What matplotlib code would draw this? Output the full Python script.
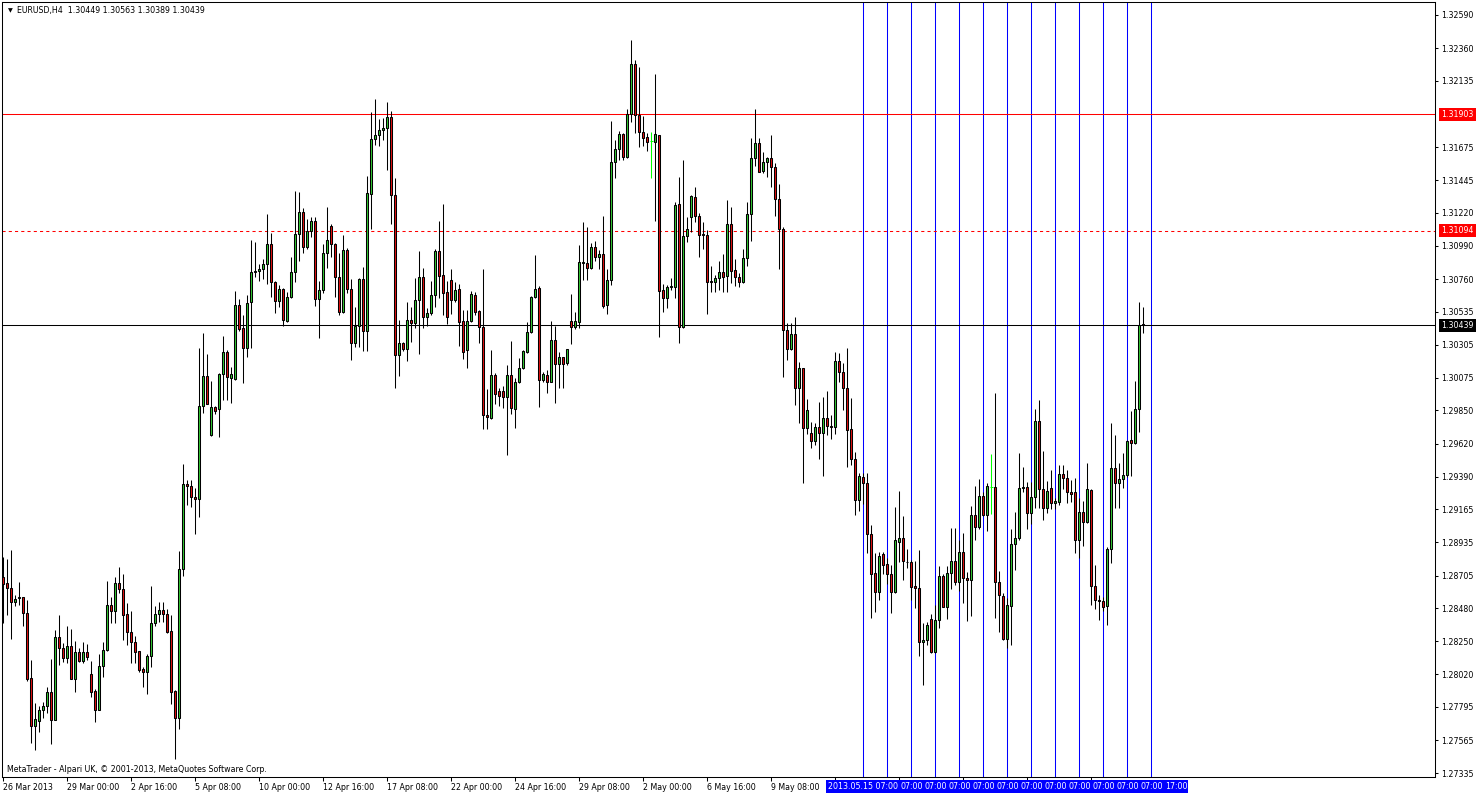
import numpy as np
import matplotlib.pyplot as plt
import matplotlib.transforms as mtransforms
from matplotlib.patches import Rectangle

# ================================
# Datos EURUSD H4
# ================================
opens = [
    1.28698, 1.28651, 1.28617, 1.28520, 1.28548, 1.28557, 1.28446, 1.27993, 1.27660, 1.27700,
    1.27776, 1.27799, 1.27896, 1.27707, 1.28277, 1.28201, 1.28132, 1.28215, 1.27991, 1.28173,
    1.28111, 1.28173, 1.28023, 1.27905, 1.27776, 1.28076, 1.28187, 1.28499, 1.28462, 1.28654,
    1.28610, 1.28437, 1.28312, 1.28243, 1.28180, 1.28055, 1.28035, 1.28146, 1.28374, 1.28437,
    1.28467, 1.28437, 1.28321, 1.27905, 1.27716, 1.28748, 1.29338, 1.29324, 1.29252, 1.29234,
    1.29880, 1.30088, 1.29679, 1.29871, 1.29857, 1.30102, 1.30252, 1.30074, 1.30065, 1.30583,
    1.30419, 1.30280, 1.30598, 1.30810, 1.30817, 1.30830, 1.30864, 1.31003, 1.30741, 1.30611,
    1.30691, 1.30472, 1.30636, 1.30811, 1.31072, 1.31225, 1.30985, 1.31093, 1.31162, 1.30620,
    1.30684, 1.30939, 1.31128, 1.31001, 1.30777, 1.30534, 1.30962, 1.30694, 1.30319, 1.30435,
    1.30758, 1.30403, 1.31347, 1.31728, 1.31758, 1.31793, 1.31807, 1.31881, 1.31340, 1.30232,
    1.30315, 1.30273, 1.30474, 1.30458, 1.30613, 1.30774, 1.30495, 1.30523, 1.30650, 1.30957,
    1.30788, 1.30668, 1.30751, 1.30615, 1.30691, 1.30467, 1.30269, 1.30467, 1.30650, 1.30537,
    1.30428, 1.29818, 1.29795, 1.30095, 1.29984, 1.29984, 1.29940, 1.30095, 1.29860, 1.30049,
    1.30142, 1.30257, 1.30393, 1.30636, 1.30696, 1.30058, 1.30095, 1.30049, 1.30338, 1.30169,
    1.30218, 1.30181, 1.30470, 1.30430, 1.30465, 1.30869, 1.30869, 1.30839, 1.30980, 1.30915,
    1.30931, 1.30580, 1.30754, 1.31569, 1.31661, 1.31763, 1.31608, 1.31902, 1.32250, 1.31897,
    1.31781, 1.31742, 1.31717, 1.31712, 1.31756, 1.30684, 1.30631, 1.30703, 1.30703, 1.31278,
    1.30425, 1.31056, 1.31188, 1.31329, 1.31199, 1.31072, 1.31063, 1.30744, 1.30742, 1.30765,
    1.30807, 1.30784, 1.31139, 1.30823, 1.30777, 1.30742, 1.30904, 1.31209, 1.31597, 1.31701,
    1.31511, 1.31574, 1.31597, 1.31534, 1.31313, 1.31105, 1.30407, 1.30273, 1.30379, 1.30003,
    1.30141, 1.29726, 1.29691, 1.29638, 1.29733, 1.29691, 1.29795, 1.29744, 1.29733, 1.30194,
    1.30114, 1.30003, 1.29721, 1.29513, 1.29229, 1.29390, 1.29345, 1.28991, 1.28721, 1.28589,
    1.28853, 1.28783, 1.28714, 1.28589, 1.28940, 1.28963, 1.28802, 1.28802, 1.28631, 1.28617,
    1.28243, 1.28259, 1.28402, 1.28178, 1.28398, 1.28702, 1.28490, 1.28721, 1.28806, 1.28663,
    1.28866, 1.28691, 1.28672, 1.29125, 1.29044, 1.29257, 1.29125, 1.29317, 1.29317, 1.28658,
    1.28564, 1.28263, 1.28494, 1.28922, 1.28963, 1.29310, 1.29317, 1.29141, 1.29247, 1.29777,
    1.29303, 1.29176, 1.29310, 1.29206, 1.29218, 1.29407, 1.29379, 1.29282, 1.29282, 1.28952,
    1.29144, 1.29074, 1.29296, 1.28635, 1.28536, 1.28529, 1.28497, 1.28887, 1.29449, 1.29345,
    1.29372, 1.29400, 1.29645, 1.29622, 1.29857, 1.30449,
]
highs = [
    1.28836, 1.28818, 1.28882, 1.28571, 1.28658, 1.28559, 1.28536, 1.28120, 1.27820, 1.27801,
    1.27831, 1.27931, 1.28125, 1.28328, 1.28432, 1.28236, 1.28353, 1.28335, 1.28250, 1.28201,
    1.28243, 1.28231, 1.28115, 1.27917, 1.28162, 1.28247, 1.28668, 1.28559, 1.28698, 1.28765,
    1.28718, 1.28513, 1.28457, 1.28289, 1.28185, 1.28074, 1.28162, 1.28633, 1.28494, 1.28522,
    1.28522, 1.28476, 1.28434, 1.27910, 1.28875, 1.29478, 1.29368, 1.29368, 1.29310, 1.30280,
    1.30384, 1.30241, 1.30054, 1.29880, 1.30110, 1.30366, 1.30269, 1.30153, 1.30677, 1.30620,
    1.30514, 1.30650, 1.31029, 1.31016, 1.30861, 1.30900, 1.31209, 1.31080, 1.30749, 1.30720,
    1.30695, 1.30668, 1.30915, 1.31370, 1.31366, 1.31250, 1.31174, 1.31188, 1.31188, 1.30747,
    1.31001, 1.31260, 1.31139, 1.31008, 1.30939, 1.31065, 1.30973, 1.30758, 1.30564, 1.30765,
    1.30841, 1.31477, 1.31920, 1.32008, 1.31869, 1.31874, 1.31985, 1.31925, 1.31458, 1.30476,
    1.30326, 1.30603, 1.30564, 1.30765, 1.30955, 1.30839, 1.30557, 1.30747, 1.30968, 1.31162,
    1.31280, 1.30747, 1.30830, 1.30742, 1.30728, 1.30543, 1.30543, 1.30677, 1.30673, 1.30543,
    1.30828, 1.29998, 1.30269, 1.30107, 1.30007, 1.30019, 1.30165, 1.30331, 1.30072, 1.30211,
    1.30269, 1.30465, 1.30645, 1.30927, 1.30712, 1.30119, 1.30130, 1.30470, 1.30435, 1.30257,
    1.30222, 1.30275, 1.30657, 1.30530, 1.30996, 1.31158, 1.31123, 1.31008, 1.31026, 1.30961,
    1.31197, 1.30830, 1.31855, 1.31724, 1.31786, 1.31770, 1.31936, 1.32417, 1.32278, 1.32232,
    1.31890, 1.31770, 1.31777, 1.32181, 1.31760, 1.30724, 1.30719, 1.30765, 1.31296, 1.31467,
    1.31585, 1.31192, 1.31343, 1.31398, 1.31220, 1.31158, 1.31100, 1.30851, 1.30788, 1.30885,
    1.30936, 1.31308, 1.31259, 1.30899, 1.30804, 1.30968, 1.31292, 1.31740, 1.31939, 1.31735,
    1.31638, 1.31604, 1.31756, 1.31562, 1.31416, 1.31118, 1.30453, 1.30453, 1.30500, 1.30188,
    1.30145, 1.29929, 1.29772, 1.29765, 1.29906, 1.29945, 1.29984, 1.29818, 1.30252, 1.30245,
    1.30176, 1.30280, 1.29933, 1.29559, 1.29414, 1.29414, 1.29414, 1.29056, 1.28859, 1.28871,
    1.28871, 1.28825, 1.28779, 1.29178, 1.29291, 1.29121, 1.28889, 1.28813, 1.28806, 1.28883,
    1.28374, 1.28381, 1.28439, 1.28501, 1.28772, 1.28714, 1.28772, 1.29033, 1.29033, 1.28952,
    1.28998, 1.28732, 1.29187, 1.29326, 1.29375, 1.29287, 1.29345, 1.29546, 1.29968, 1.28737,
    1.28582, 1.28548, 1.29026, 1.29144, 1.29552, 1.29455, 1.29356, 1.29356, 1.29860, 1.29922,
    1.29569, 1.29361, 1.29437, 1.29241, 1.29472, 1.29472, 1.29435, 1.29368, 1.29384, 1.29241,
    1.29222, 1.29483, 1.29305, 1.28779, 1.28571, 1.28559, 1.28906, 1.29760, 1.29680, 1.29483,
    1.29552, 1.29645, 1.29846, 1.30054, 1.30604, 1.30563,
]
lows = [
    1.28374, 1.28432, 1.28263, 1.28494, 1.28501, 1.28358, 1.27977, 1.27543, 1.27497, 1.27623,
    1.27716, 1.27751, 1.27536, 1.27704, 1.28085, 1.28109, 1.28097, 1.27988, 1.27901, 1.28104,
    1.28102, 1.28120, 1.27866, 1.27693, 1.27774, 1.28005, 1.28185, 1.28374, 1.28374, 1.28587,
    1.28259, 1.28224, 1.28102, 1.28097, 1.28039, 1.27935, 1.27882, 1.28069, 1.28358, 1.28386,
    1.28386, 1.28310, 1.27813, 1.27436, 1.27642, 1.28700, 1.29194, 1.29183, 1.28991, 1.29114,
    1.29834, 1.29892, 1.29672, 1.29825, 1.29668, 1.29922, 1.29922, 1.29904, 1.30060, 1.30402,
    1.30038, 1.30218, 1.30282, 1.30776, 1.30745, 1.30758, 1.30726, 1.30637, 1.30526, 1.30565,
    1.30436, 1.30461, 1.30627, 1.30742, 1.30885, 1.30943, 1.30966, 1.31054, 1.30573, 1.30354,
    1.30661, 1.30839, 1.30915, 1.30638, 1.30511, 1.30523, 1.30666, 1.30199, 1.30292, 1.30292,
    1.30264, 1.30264, 1.31107, 1.31689, 1.31682, 1.31724, 1.31516, 1.31144, 1.30003, 1.30091,
    1.30262, 1.30192, 1.30326, 1.30419, 1.30243, 1.30419, 1.30437, 1.30511, 1.30569, 1.30627,
    1.30511, 1.30451, 1.30516, 1.30604, 1.30299, 1.30204, 1.30142, 1.30460, 1.30511, 1.30315,
    1.29719, 1.29719, 1.29790, 1.29894, 1.29880, 1.29864, 1.29541, 1.29823, 1.29726, 1.30037,
    1.30135, 1.30245, 1.30384, 1.30627, 1.29871, 1.30049, 1.29968, 1.30045, 1.29899, 1.30003,
    1.30003, 1.30165, 1.30308, 1.30414, 1.30419, 1.30754, 1.30754, 1.30827, 1.30888, 1.30827,
    1.30562, 1.30518, 1.30719, 1.31458, 1.31585, 1.31585, 1.31600, 1.31851, 1.31770, 1.31678,
    1.31682, 1.31650, 1.31458, 1.31165, 1.30361, 1.30534, 1.30557, 1.30684, 1.30626, 1.30319,
    1.30420, 1.31015, 1.31088, 1.31158, 1.30911, 1.30968, 1.30518, 1.30673, 1.30673, 1.30684,
    1.30673, 1.30673, 1.30730, 1.30712, 1.30707, 1.30730, 1.30851, 1.31024, 1.31546, 1.31500,
    1.31497, 1.31470, 1.31400, 1.31199, 1.30832, 1.30084, 1.30199, 1.30270, 1.29887, 1.29765,
    1.29344, 1.29684, 1.29587, 1.29610, 1.29513, 1.29397, 1.29679, 1.29652, 1.29684, 1.30044,
    1.29853, 1.29460, 1.29471, 1.29125, 1.29150, 1.29200, 1.28859, 1.28414, 1.28455, 1.28536,
    1.28714, 1.28645, 1.28448, 1.28582, 1.28797, 1.28675, 1.28756, 1.28536, 1.28483, 1.28150,
    1.27947, 1.28224, 1.28170, 1.28170, 1.28344, 1.28485, 1.28402, 1.28612, 1.28640, 1.28598,
    1.28518, 1.28393, 1.28425, 1.28952, 1.29026, 1.29120, 1.29017, 1.29132, 1.28414, 1.28317,
    1.28259, 1.28206, 1.28224, 1.28744, 1.28952, 1.29282, 1.29028, 1.29060, 1.29171, 1.29176,
    1.29091, 1.29137, 1.29167, 1.29167, 1.29194, 1.29305, 1.29206, 1.29218, 1.28859, 1.28825,
    1.28913, 1.29070, 1.28501, 1.28474, 1.28398, 1.28460, 1.28363, 1.28795, 1.29176, 1.29176,
    1.29310, 1.29391, 1.29398, 1.29620, 1.29703, 1.30389,
]
closes = [
    1.28647, 1.28617, 1.28520, 1.28543, 1.28555, 1.28444, 1.27988, 1.27660, 1.27709, 1.27771,
    1.27799, 1.27896, 1.27707, 1.28277, 1.28201, 1.28132, 1.28215, 1.27991, 1.28173, 1.28111,
    1.28173, 1.28143, 1.27901, 1.27776, 1.28078, 1.28187, 1.28499, 1.28462, 1.28654, 1.28610,
    1.28430, 1.28312, 1.28243, 1.28173, 1.28053, 1.28035, 1.28146, 1.28374, 1.28437, 1.28467,
    1.28437, 1.28316, 1.27901, 1.27716, 1.28748, 1.29338, 1.29324, 1.29252, 1.29234, 1.29880,
    1.30088, 1.29892, 1.29871, 1.29848, 1.30102, 1.30252, 1.30079, 1.30102, 1.30583, 1.30412,
    1.30280, 1.30592, 1.30810, 1.30817, 1.30830, 1.30864, 1.31003, 1.30741, 1.30611, 1.30691,
    1.30475, 1.30636, 1.30811, 1.31072, 1.31225, 1.30985, 1.31093, 1.31162, 1.30620, 1.30684,
    1.30939, 1.31031, 1.31001, 1.30777, 1.30534, 1.30962, 1.30694, 1.30319, 1.30435, 1.30758,
    1.30403, 1.31354, 1.31728, 1.31758, 1.31793, 1.31807, 1.31881, 1.31340, 1.30232, 1.30315,
    1.30273, 1.30474, 1.30458, 1.30613, 1.30774, 1.30495, 1.30523, 1.30650, 1.30957, 1.30784,
    1.30661, 1.30500, 1.30615, 1.30682, 1.30465, 1.30257, 1.30467, 1.30657, 1.30534, 1.30428,
    1.29818, 1.29802, 1.30095, 1.29961, 1.29952, 1.29940, 1.30095, 1.29864, 1.30049, 1.30142,
    1.30264, 1.30393, 1.30636, 1.30691, 1.30058, 1.30100, 1.30049, 1.30338, 1.30169, 1.30218,
    1.30174, 1.30273, 1.30426, 1.30470, 1.30876, 1.30876, 1.30839, 1.30980, 1.30915, 1.30934,
    1.30573, 1.30754, 1.31569, 1.31661, 1.31763, 1.31608, 1.31902, 1.32250, 1.31897, 1.31781,
    1.31735, 1.31712, 1.31717, 1.31763, 1.30680, 1.30631, 1.30703, 1.30710, 1.31271, 1.30425,
    1.31056, 1.31105, 1.31333, 1.31199, 1.31063, 1.31063, 1.30737, 1.30737, 1.30765, 1.30807,
    1.30777, 1.31139, 1.30818, 1.30772, 1.30742, 1.30904, 1.31209, 1.31597, 1.31701, 1.31504,
    1.31574, 1.31597, 1.31534, 1.31313, 1.31105, 1.30407, 1.30273, 1.30379, 1.30003, 1.30141,
    1.29726, 1.29853, 1.29638, 1.29733, 1.29691, 1.29795, 1.29744, 1.29733, 1.30194, 1.30114,
    1.30003, 1.29714, 1.29513, 1.29229, 1.29397, 1.29345, 1.28991, 1.28714, 1.28589, 1.28841,
    1.28779, 1.28714, 1.28589, 1.28950, 1.28963, 1.28806, 1.28797, 1.28628, 1.28617, 1.28247,
    1.28259, 1.28363, 1.28178, 1.28398, 1.28702, 1.28490, 1.28721, 1.28806, 1.28663, 1.28866,
    1.28691, 1.28672, 1.29125, 1.29044, 1.29257, 1.29125, 1.29326, 1.29317, 1.28658, 1.28571,
    1.28263, 1.28501, 1.28922, 1.28963, 1.29310, 1.29319, 1.29141, 1.29247, 1.29777, 1.29303,
    1.29176, 1.29291, 1.29206, 1.29222, 1.29407, 1.29379, 1.29282, 1.29273, 1.28952, 1.29144,
    1.29074, 1.29303, 1.28635, 1.28536, 1.28531, 1.28490, 1.28887, 1.29449, 1.29345, 1.29372,
    1.29400, 1.29640, 1.29622, 1.29857, 1.30442, 1.30439,
]

price_ticks = [1.32590, 1.32360, 1.32135, 1.31675, 1.31445, 1.31220, 1.30990, 1.30760,
               1.30535, 1.30305, 1.30075, 1.29850, 1.29620, 1.29390, 1.29165, 1.28935,
               1.28705, 1.28480, 1.28250, 1.28020, 1.27795, 1.27565, 1.27335]

date_tick_bars = [0, 16, 32, 48, 64, 80, 96, 112, 128, 144, 160, 176, 192, 208, 224, 240, 256, 272]
date_labels = ["26 Mar 2013", "29 Mar 00:00", "2 Apr 16:00", "5 Apr 08:00", "10 Apr 00:00",
               "12 Apr 16:00", "17 Apr 08:00", "22 Apr 00:00", "24 Apr 16:00", "29 Apr 08:00",
               "2 May 00:00", "6 May 16:00", "9 May 08:00", "", "", "", "", ""]

# lineas verticales (cada 6 velas) y la parte visible de su etiqueta de tiempo
vline_bars = [215, 221, 227, 233, 239, 245, 251, 257, 263, 269, 275, 281, 287]
vline_labels = ["2013.05.15 07:00", "07:00", "07:00", "07:00", "07:00", "07:00", "07:00",
                "07:00", "07:00", "07:00", "07:00", "07:00", "17:00"]

level_red = 1.31903
level_dash = 1.31094
level_bid = 1.30439

GREEN = "#32c832"
RED = "#e01010"
FS = 5.7

plt.rcParams["font.family"] = ["DejaVu Sans"]

# ================================
# Figura
# ================================
W, H = 1479, 795
fig = plt.figure(figsize=(W / 100, H / 100), dpi=100)
fig.patch.set_facecolor("white")
ax = fig.add_axes([2 / W, (H - 777) / H, (1435 - 2) / W, (777 - 2) / H])
ax.set_xlim(-0.325, 357.9)
ax.set_ylim(1.27309, 1.32680)

o = np.array(opens)
h = np.array(highs)
l = np.array(lows)
c = np.array(closes)
x = np.arange(len(o))
up = c > o
dn = c < o
dj = c == o

# lineas verticales azules
for b in vline_bars:
    ax.axvline(b, color="#0000ff", lw=0.75, zorder=1)

# niveles horizontales
ax.axhline(level_red, color="#ff0000", lw=0.75, zorder=2)
ax.axhline(level_dash, color="#ff0000", lw=0.75, ls=(0, (3, 3)), zorder=2)
ax.axhline(level_bid, color="black", lw=0.75, zorder=2)

# velas
ax.vlines(x[~dj], l[~dj], h[~dj], color="black", lw=0.75, zorder=3)
ax.bar(x[up], c[up] - o[up], bottom=o[up], width=0.55, color=GREEN,
       edgecolor="black", linewidth=0.75, zorder=4)
ax.bar(x[dn], o[dn] - c[dn], bottom=c[dn], width=0.55, color=RED,
       edgecolor="black", linewidth=0.75, zorder=4)
ax.vlines(x[dj], l[dj], h[dj], color="#00ff00", lw=0.75, zorder=4)
ax.hlines(o[dj], x[dj] - 0.35, x[dj] + 0.35, color="#00ff00", lw=0.75, zorder=4)

# ejes
for s in ax.spines.values():
    s.set_linewidth(0.75)
    s.set_color("black")
ax.yaxis.tick_right()
ax.set_yticks(price_ticks)
ax.set_yticklabels([f"{p:.5f}" for p in price_ticks], fontsize=FS)
ax.tick_params(axis="y", length=2.5, width=0.75, pad=2)
ax.set_xticks(date_tick_bars)
ax.set_xticklabels(date_labels, fontsize=FS)
for lbl in ax.get_xticklabels():
    lbl.set_horizontalalignment("left")
ax.tick_params(axis="x", length=3, width=0.75, pad=1.5)

# etiquetas de precio a la derecha
trans_y = mtransforms.blended_transform_factory(ax.transAxes, ax.transData)
for val, bg in [(level_red, "#ff0000"), (level_dash, "#ff0000"), (level_bid, "black")]:
    ax.text(1.0157, val, f"{val:.5f}", transform=trans_y, ha="center", va="center",
            fontsize=FS, color="white", clip_on=False, zorder=10,
            bbox=dict(boxstyle="square,pad=0.25", fc=bg, ec="none"))

# franja azul con las horas de las lineas verticales
trans_x = mtransforms.blended_transform_factory(ax.transData, ax.transAxes)
half = 9.25  # media etiqueta, en velas
strip = Rectangle((vline_bars[0] - half, -0.0039), vline_bars[-1] - vline_bars[0] + 2 * half,
                  -0.0168, transform=trans_x, facecolor="#0000ff", edgecolor="none",
                  clip_on=False, zorder=20)
ax.add_patch(strip)
ax.text(vline_bars[0], -0.0122, vline_labels[0], transform=trans_x, ha="center",
        va="center", fontsize=FS, color="white", clip_on=False, zorder=21)
for b, txt in zip(vline_bars[1:], vline_labels[1:]):
    ax.text(b + half - 0.3, -0.0122, txt, transform=trans_x, ha="right", va="center",
            fontsize=FS, color="white", clip_on=False, zorder=21)

# textos
fig.text(10.5 / W, 1 - 10.5 / H, "\u25bc", fontsize=4.5, ha="center", va="center")
fig.text(17 / W, 1 - 10.5 / H, "EURUSD,H4  1.30449 1.30563 1.30389 1.30439",
         fontsize=FS, ha="left", va="center")
fig.text(7 / W, 1 - 770 / H,
         "MetaTrader - Alpari UK, \u00a9 2001-2013, MetaQuotes Software Corp.",
         fontsize=FS, ha="left", va="center")

fig.savefig("out.png", dpi=100)
